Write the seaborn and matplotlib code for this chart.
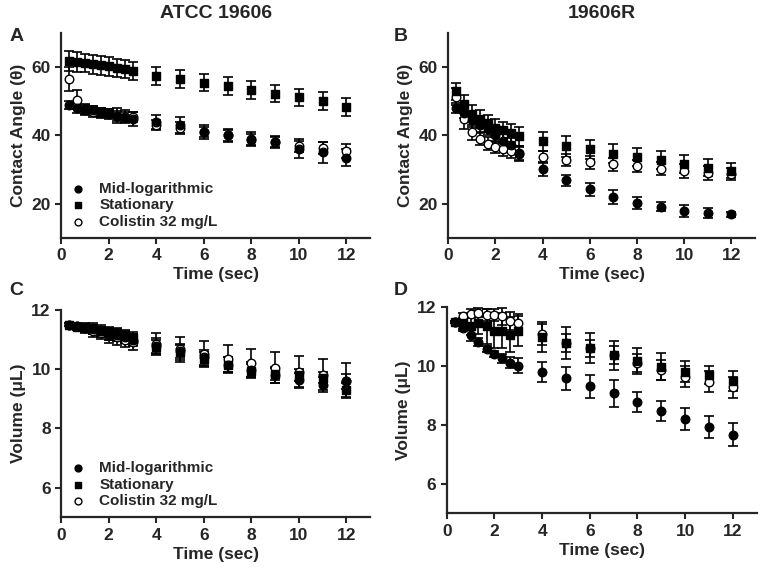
import numpy as np
import pandas as pd
import matplotlib
matplotlib.use("Agg")
import matplotlib.pyplot as plt
import seaborn as sns

# ── Data ──
times = [0.33, 0.67, 1.0, 1.33, 1.67, 2.0, 2.33, 2.67, 3.0, 4, 5, 6, 7, 8, 9, 10, 11, 12]
series_names = ["Mid-logarithmic", "Stationary", "Colistin 32 mg/L"]

# A: contact angle, ATCC 19606
a_mid = [49.0, 48.0, 47.8, 47.3, 46.8, 46.5, 45.8, 45.5, 44.8, 44.0, 43.0, 41.0, 40.0, 39.0, 38.0, 36.0, 35.0, 33.5]
a_mid_err = [1.2, 1.5, 1.5, 1.3, 1.3, 1.2, 2.3, 2.0, 2.0, 2.0, 2.5, 2.0, 2.0, 2.0, 1.7, 2.5, 3.0, 2.5]
a_stat = [61.8, 61.5, 61.2, 60.8, 60.5, 60.2, 59.7, 59.4, 58.8, 57.5, 56.5, 55.5, 54.5, 53.2, 52.2, 51.2, 50.0, 48.4]
a_stat_err = [2.8, 2.8, 2.7, 2.7, 2.7, 2.7, 2.6, 2.6, 2.7, 2.6, 2.6, 2.6, 2.6, 2.6, 2.5, 2.5, 2.6, 2.6]
a_col = [56.5, 50.5, 47.5, 47.0, 46.6, 46.3, 45.7, 45.3, 45.5, 43.0, 42.3, 41.0, 40.0, 38.8, 38.0, 37.0, 36.3, 35.5]
a_col_err = [3.5, 2.7, 1.5, 1.5, 1.5, 1.5, 1.5, 1.5, 1.5, 1.5, 1.7, 1.5, 1.5, 1.5, 1.5, 2.0, 1.8, 2.0]

# B: contact angle, 19606R
b_mid = [48.0, 46.5, 44.5, 43.0, 42.0, 40.2, 38.5, 37.2, 34.5, 30.2, 26.8, 24.2, 22.0, 20.2, 19.1, 17.9, 17.3, 16.9]
b_mid_err = [1.5, 1.5, 2.0, 2.0, 2.0, 2.0, 2.0, 2.0, 2.0, 2.0, 1.5, 2.0, 2.0, 1.8, 1.3, 1.8, 1.5, 0.8]
b_stat = [52.9, 49.2, 46.3, 44.8, 43.6, 42.3, 41.5, 40.7, 39.8, 38.3, 36.8, 35.9, 34.7, 33.7, 32.8, 31.6, 30.6, 29.7]
b_stat_err = [2.5, 2.5, 2.5, 2.5, 2.5, 2.5, 2.5, 2.5, 2.8, 2.8, 3.0, 2.9, 2.8, 2.7, 2.6, 2.6, 2.5, 2.3]
b_col = [51.3, 44.8, 40.9, 39.0, 37.6, 36.6, 35.9, 35.3, 34.8, 33.7, 32.9, 32.1, 31.5, 31.0, 30.3, 29.6, 29.0, 28.6]
b_col_err = [2.5, 2.8, 2.2, 1.8, 1.8, 1.8, 1.8, 1.8, 2.0, 1.8, 1.8, 2.0, 1.8, 1.8, 1.8, 2.0, 2.0, 1.8]

# C: volume, ATCC 19606
c_mid = [11.50, 11.45, 11.40, 11.35, 11.28, 11.20, 11.15, 11.08, 11.00, 10.80, 10.62, 10.40, 10.15, 9.98, 9.80, 9.63, 9.48, 9.60]
c_mid_err = [0.05, 0.08, 0.12, 0.15, 0.15, 0.20, 0.20, 0.20, 0.20, 0.25, 0.25, 0.25, 0.25, 0.25, 0.25, 0.25, 0.25, 0.25]
c_stat = [11.50, 11.42, 11.42, 11.38, 11.30, 11.22, 11.18, 11.12, 11.05, 10.75, 10.58, 10.35, 10.15, 9.95, 9.85, 9.80, 9.72, 9.30]
c_stat_err = [0.05, 0.08, 0.15, 0.20, 0.20, 0.22, 0.22, 0.22, 0.22, 0.25, 0.25, 0.25, 0.25, 0.22, 0.22, 0.20, 0.20, 0.25]
c_col = [11.50, 11.45, 11.38, 11.30, 11.22, 11.15, 11.08, 11.00, 10.92, 10.85, 10.68, 10.52, 10.35, 10.20, 10.05, 9.92, 9.82, 9.62]
c_col_err = [0.05, 0.10, 0.15, 0.20, 0.20, 0.25, 0.25, 0.25, 0.28, 0.38, 0.42, 0.45, 0.48, 0.50, 0.52, 0.52, 0.52, 0.60]

# D: volume, 19606R
d_mid = [11.50, 11.30, 11.07, 10.82, 10.57, 10.40, 10.26, 10.12, 10.02, 9.80, 9.58, 9.31, 9.07, 8.78, 8.47, 8.21, 7.93, 7.67]
d_mid_err = [0.05, 0.10, 0.20, 0.15, 0.10, 0.10, 0.15, 0.20, 0.25, 0.35, 0.38, 0.38, 0.45, 0.35, 0.35, 0.38, 0.38, 0.38]
d_stat = [11.50, 11.45, 11.36, 11.48, 11.35, 11.20, 11.20, 11.07, 11.20, 10.99, 10.79, 10.62, 10.37, 10.18, 9.98, 9.81, 9.70, 9.50]
d_stat_err = [0.05, 0.20, 0.30, 0.40, 0.60, 0.60, 0.60, 0.60, 0.50, 0.50, 0.55, 0.52, 0.50, 0.45, 0.45, 0.35, 0.32, 0.35]
d_col = [11.50, 11.69, 11.78, 11.81, 11.74, 11.73, 11.69, 11.53, 11.46, 11.08, 10.79, 10.60, 10.37, 10.11, 9.87, 9.64, 9.47, 9.28]
d_col_err = [0.05, 0.10, 0.15, 0.15, 0.20, 0.20, 0.30, 0.30, 0.30, 0.35, 0.30, 0.30, 0.30, 0.30, 0.35, 0.35, 0.35, 0.35]

# ── Style ──
sns.set_style("ticks")
plt.rcParams["font.family"] = ["Liberation Sans", "DejaVu Sans"]
plt.rcParams["font.weight"] = "bold"
plt.rcParams["axes.labelweight"] = "bold"
plt.rcParams["axes.linewidth"] = 1.6
plt.rcParams["xtick.major.width"] = 1.5
plt.rcParams["ytick.major.width"] = 1.5
plt.rcParams["xtick.major.size"] = 4
plt.rcParams["ytick.major.size"] = 4

# marker, face colour per series (drawn colistin first so filled marks sit on top)
STYLES = {
    "Colistin 32 mg/L": ("o", "white"),
    "Stationary": ("s", "black"),
    "Mid-logarithmic": ("o", "black"),
}


def draw_panel(ax, mid, mid_err, stat, stat_err, col, col_err, ylim, yticks, ylabel, legend):
    data = {
        "Mid-logarithmic": (mid, mid_err),
        "Stationary": (stat, stat_err),
        "Colistin 32 mg/L": (col, col_err),
    }
    for name in ["Colistin 32 mg/L", "Stationary", "Mid-logarithmic"]:
        vals, errs = data[name]
        df = pd.DataFrame({"time": times, "value": vals, "err": errs})
        ax.errorbar(df["time"], df["value"], yerr=df["err"], fmt="none",
                    ecolor="black", elinewidth=1.2, capsize=3.5, capthick=1.2, zorder=2)
        marker, face = STYLES[name]
        sns.scatterplot(data=df, x="time", y="value", marker=marker, color=face,
                        edgecolor="black", linewidth=1.0, s=38 if marker == "o" else 34,
                        ax=ax, zorder=3, label=name if legend else None)
    ax.set_xlim(0, 13)
    ax.set_xticks([0, 2, 4, 6, 8, 10, 12])
    ax.set_ylim(*ylim)
    ax.set_yticks(yticks)
    ax.set_xlabel("Time (sec)", fontsize=12.5, fontweight="bold", labelpad=3)
    ax.set_ylabel(ylabel, fontsize=12.5, fontweight="bold")
    ax.tick_params(labelsize=12.5)
    for lbl in ax.get_xticklabels() + ax.get_yticklabels():
        lbl.set_fontweight("bold")
    sns.despine(ax=ax)
    if legend:
        handles, labels = ax.get_legend_handles_labels()
        order = [labels.index(n) for n in series_names]
        ax.legend([handles[i] for i in order], [labels[i] for i in order],
                  loc="lower left", frameon=False, handlelength=1.0, markerscale=0.8,
                  handletextpad=0.9, labelspacing=0.15, borderaxespad=0.2,
                  prop={"weight": "bold", "size": 11})
    elif ax.get_legend() is not None:
        ax.get_legend().remove()


fig = plt.figure(figsize=(7.65, 5.69), dpi=100)
ax_a = fig.add_axes([0.080, 0.582, 0.404, 0.360])
ax_b = fig.add_axes([0.586, 0.582, 0.401, 0.360])
ax_c = fig.add_axes([0.080, 0.091, 0.404, 0.364])
ax_d = fig.add_axes([0.584, 0.098, 0.405, 0.362])

draw_panel(ax_a, a_mid, a_mid_err, a_stat, a_stat_err, a_col, a_col_err,
           (10, 70), [20, 40, 60], "Contact Angle (θ)", True)
draw_panel(ax_b, b_mid, b_mid_err, b_stat, b_stat_err, b_col, b_col_err,
           (10, 70), [20, 40, 60], "Contact Angle (θ)", False)
draw_panel(ax_c, c_mid, c_mid_err, c_stat, c_stat_err, c_col, c_col_err,
           (5, 12), [6, 8, 10, 12], "Volume (μL)", True)
draw_panel(ax_d, d_mid, d_mid_err, d_stat, d_stat_err, d_col, d_col_err,
           (5, 12), [6, 8, 10, 12], "Volume (μL)", False)

ax_a.set_title("ATCC 19606", fontsize=14, fontweight="bold", pad=11)
ax_b.set_title("19606R", fontsize=14, fontweight="bold", pad=11)

for letter, x, y in [("A", 0.012, 0.935), ("B", 0.515, 0.935),
                     ("C", 0.012, 0.490), ("D", 0.515, 0.490)]:
    fig.text(x, y, letter, fontsize=14, fontweight="bold", va="center")

fig.savefig("out.png", dpi=100)
